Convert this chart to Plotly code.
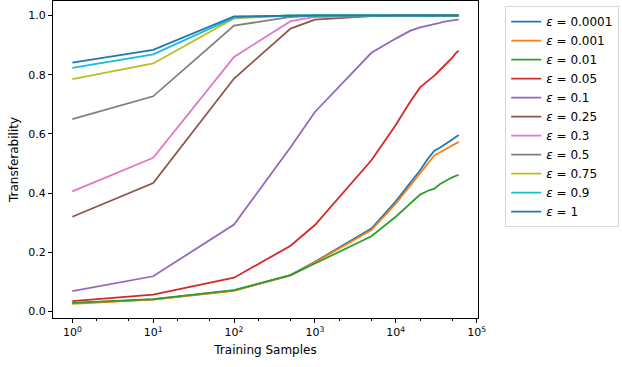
import plotly.graph_objects as go

# training sample counts (x axis, log scale)
samples = [1, 10, 100, 500, 1000, 5000, 10000, 15000, 20000, 25000,
           30000, 35000, 40000, 45000, 50000, 55000, 60000]

# transferability per epsilon
eps_0001 = [0.028, 0.041, 0.071, 0.123, 0.168, 0.280, 0.372, 0.433, 0.477, 0.516,
            0.543, 0.553, 0.565, 0.573, 0.581, 0.588, 0.596]
eps_001 = [0.026, 0.040, 0.070, 0.122, 0.166, 0.275, 0.364, 0.425, 0.468, 0.503,
           0.527, 0.537, 0.546, 0.553, 0.560, 0.566, 0.573]
eps_01 = [0.029, 0.042, 0.072, 0.123, 0.162, 0.254, 0.320, 0.365, 0.395, 0.408,
          0.415, 0.430, 0.440, 0.447, 0.453, 0.458, 0.462]
eps_05 = [0.035, 0.057, 0.114, 0.222, 0.292, 0.511, 0.630, 0.708, 0.757, 0.778,
          0.797, 0.815, 0.830, 0.845, 0.858, 0.872, 0.881]
eps_1 = [0.069, 0.119, 0.294, 0.555, 0.674, 0.874, 0.922, 0.948, 0.960, 0.967,
         0.972, 0.975, 0.979, 0.982, 0.983, 0.985, 0.986]
eps_25 = [0.320, 0.434, 0.787, 0.956, 0.986, 0.998, 1.0, 1.0, 1.0, 1.0,
          1.0, 1.0, 1.0, 1.0, 1.0, 1.0, 1.0]
eps_3 = [0.406, 0.519, 0.860, 0.981, 0.995, 1.0, 1.0, 1.0, 1.0, 1.0,
         1.0, 1.0, 1.0, 1.0, 1.0, 1.0, 1.0]
eps_5 = [0.650, 0.727, 0.966, 0.995, 1.0, 1.0, 1.0, 1.0, 1.0, 1.0,
         1.0, 1.0, 1.0, 1.0, 1.0, 1.0, 1.0]
eps_75 = [0.785, 0.838, 0.990, 1.0, 1.0, 1.0, 1.0, 1.0, 1.0, 1.0,
          1.0, 1.0, 1.0, 1.0, 1.0, 1.0, 1.0]
eps_9 = [0.823, 0.869, 0.993, 1.0, 1.0, 1.0, 1.0, 1.0, 1.0, 1.0,
         1.0, 1.0, 1.0, 1.0, 1.0, 1.0, 1.0]
eps_10 = [0.841, 0.884, 0.997, 1.0, 1.0, 1.0, 1.0, 1.0, 1.0, 1.0,
          1.0, 1.0, 1.0, 1.0, 1.0, 1.0, 1.0]

eps_labels = ["0.0001", "0.001", "0.01", "0.05", "0.1", "0.25",
              "0.3", "0.5", "0.75", "0.9", "1"]
x_tickvals = [1, 10, 100, 1000, 10000, 100000]
x_ticktext = ["10<sup>0</sup>", "10<sup>1</sup>", "10<sup>2</sup>",
              "10<sup>3</sup>", "10<sup>4</sup>", "10<sup>5</sup>"]

# matplotlib tab10 cycle (wraps for the 11th line)
colors = ["#1f77b4", "#ff7f0e", "#2ca02c", "#d62728", "#9467bd", "#8c564b",
          "#e377c2", "#7f7f7f", "#bcbd22", "#17becf", "#1f77b4"]

series = [eps_0001, eps_001, eps_01, eps_05, eps_1, eps_25,
          eps_3, eps_5, eps_75, eps_9, eps_10]

fig = go.Figure()
for lab, ys, col in zip(eps_labels, series, colors):
    fig.add_trace(go.Scatter(
        x=samples, y=ys, mode="lines",
        name=f"<i>ε</i> = {lab}",
        line=dict(color=col, width=1.8),
    ))

axis_common = dict(
    showline=True, linecolor="black", linewidth=1, mirror=True,
    ticks="outside", ticklen=4, tickwidth=1, tickcolor="black",
    showgrid=False, zeroline=False, automargin=False,
    tickfont=dict(size=11, color="black"),
)

fig.update_xaxes(
    type="log", range=[-0.239, 5.017],
    tickvals=x_tickvals, ticktext=x_ticktext,
    title=dict(text="Training Samples", font=dict(size=12, color="black"), standoff=7),
    minor=dict(ticks="outside", ticklen=2, tickcolor="black", showgrid=False),
    **axis_common,
)
fig.update_yaxes(
    range=[-0.022, 1.049], tickvals=[0, 0.2, 0.4, 0.6, 0.8, 1.0], tickformat=".1f",
    title=dict(text="Transferability", font=dict(size=12, color="black"), standoff=7),
    **axis_common,
)

fig.update_layout(
    width=622, height=367,
    margin=dict(l=53, r=144, t=1, b=49),
    plot_bgcolor="white", paper_bgcolor="white",
    font=dict(family="DejaVu Sans", size=11, color="black"),
    legend=dict(
        x=1.064, y=0.984, xanchor="left", yanchor="top",
        bordercolor="#d9d9d9", borderwidth=1,
        font=dict(size=12),
    ),
)

# drop the browser's default body margin so the figure sits at the page corner
fig.write_html("out.html", config={"displayModeBar": False},
               post_script="document.body.style.margin='0';")
